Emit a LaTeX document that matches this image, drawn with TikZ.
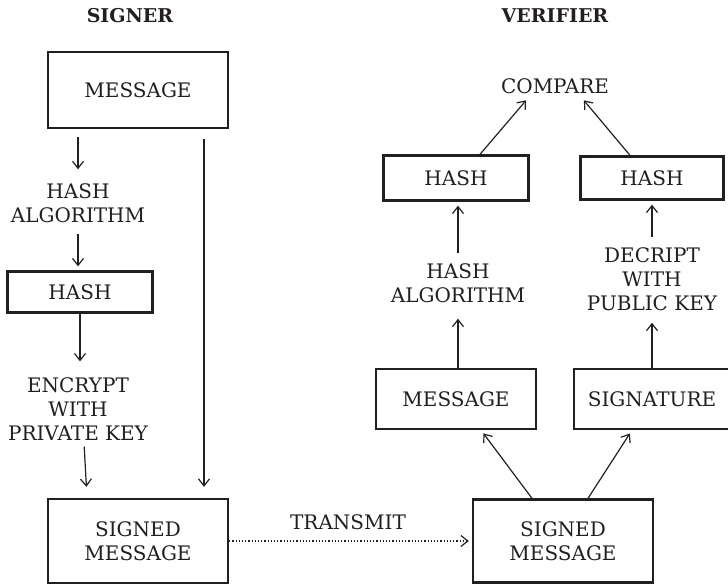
\documentclass[tikz,border=0pt]{standalone}
\usepackage{fontspec}
\setmainfont{DejaVu Serif}
\usetikzlibrary{arrows.meta,positioning}
\definecolor{ink}{HTML}{231F20}
\newcommand{\diagfont}{\fontsize{20}{24}\selectfont}
\newcommand{\titlefont}{\fontsize{19}{22}\selectfont\bfseries}

\begin{document}
\begin{tikzpicture}[x=1pt,y=-1pt,color=ink,
    box/.style={draw,line width=2.3pt,inner sep=0pt,align=center,font=\diagfont},
    txt/.style={align=center,font=\diagfont,inner sep=2pt},
    arr/.style={-{Straight Barb[length=7pt,width=11pt]},line width=1.2pt}]
  \useasboundingbox (0,0) rectangle (728,585);
  % titles
  \node[font=\titlefont] (signer) at (130,16) {SIGNER};
  \node[font=\titlefont] (verifier) at (555,16) {VERIFIER};
  % signer side
  \node[box,minimum width=180pt,minimum height=76pt] (msg) at (138,90) {MESSAGE};
  \node[txt] (halgo) at (78,203) {HASH\\ALGORITHM};
  \node[box,minimum width=145pt,minimum height=41pt] (hashL) at (80,292) {HASH};
  \node[txt] (encr) at (78,409) {ENCRYPT\\WITH\\PRIVATE KEY};
  \node[box,minimum width=180pt,minimum height=84pt] (signL) at (138,541) {SIGNED\\MESSAGE};
  % verifier side
  \node[box,minimum width=180pt,minimum height=83pt] (signR) at (563,541) {SIGNED\\MESSAGE};
  \node[box,minimum width=160pt,minimum height=60pt] (msgR) at (456,399) {MESSAGE};
  \node[box,minimum width=156pt,minimum height=60pt] (sigR) at (652,399) {SIGNATURE};
  \node[txt] (halgoR) at (458,283) {HASH\\ALGORITHM};
  \node[txt] (decr) at (652,279) {DECRIPT\\WITH\\PUBLIC KEY};
  \node[box,minimum width=145pt,minimum height=45pt] (hashR1) at (456,178) {HASH};
  \node[box,minimum width=143pt,minimum height=43pt] (hashR2) at (652,178) {HASH};
  \node[txt] (compare) at (555,86) {COMPARE};
  \node[txt] (transmit) at (348,522) {TRANSMIT};
  % arrows
  \draw[arr,shorten <=8pt,shorten >=12pt] (msg.south -| halgo.north) -- (halgo.north);
  \draw[arr,shorten <=9pt,shorten >=4pt] (halgo.south) -- (halgo.south |- hashL.north);
  \draw[arr,shorten >=14pt] (hashL.south) -- (hashL.south |- encr.north);
  \draw[arr,shorten <=4pt,shorten >=11pt] ([xshift=6pt]encr.south) -- ([xshift=-51pt]signL.north);
  \draw[arr,shorten <=10pt,shorten >=11pt] ([xshift=66pt]msg.south) -- ([xshift=66pt]signL.north);
  \draw[arr,dotted,line width=1.2pt,shorten >=3pt] (signL.east) -- (signL.east -| signR.west);
  \draw[arr,shorten >=4pt] ([xshift=-31pt]signR.north) -- ([xshift=25pt]msgR.south);
  \draw[arr,shorten >=4pt] ([xshift=25pt]signR.north) -- ([xshift=-20pt]sigR.south);
  \draw[arr,shorten >=14pt] (msgR.north -| halgoR.south) -- (halgoR.south);
  \draw[arr,shorten <=8pt,shorten >=4pt] (halgoR.north) -- (halgoR.north |- hashR1.south);
  \draw[arr,shorten >=10pt] (sigR.north) -- (decr.south);
  \draw[arr,shorten <=8pt,shorten >=4pt] (decr.north) -- (hashR2.south);
  \draw[arr,shorten >=6pt] ([xshift=24pt]hashR1.north) -- ([xshift=-25pt]compare.south);
  \draw[arr,shorten >=6pt] ([xshift=-22pt]hashR2.north) -- ([xshift=25pt]compare.south);
\end{tikzpicture}
\end{document}
